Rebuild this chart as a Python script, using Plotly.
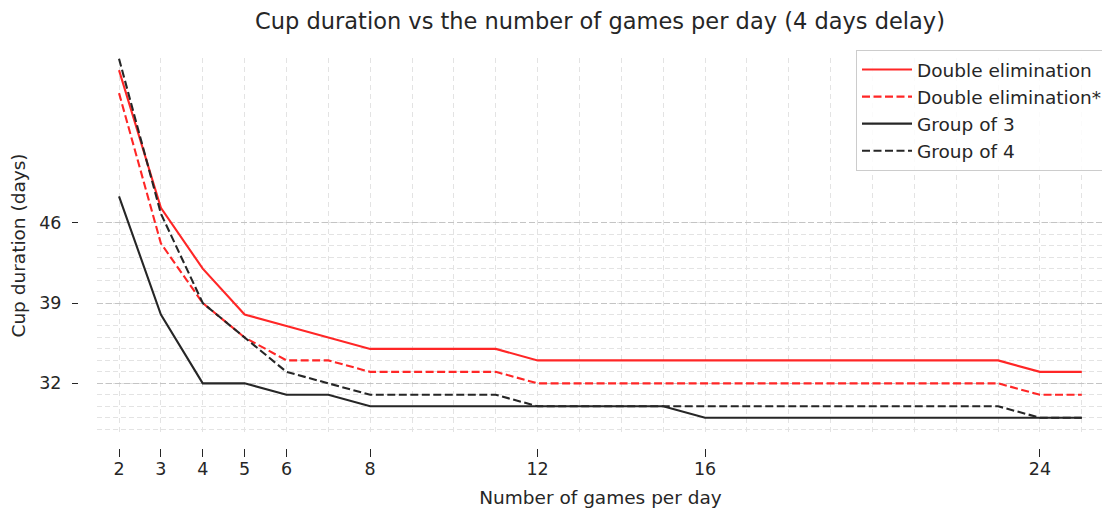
import plotly.graph_objects as go

# ---------------- data ----------------
games_per_day = [2, 3, 4, 5, 6, 7, 8, 9, 10, 11, 12, 13, 14, 15, 16, 17, 18, 19, 20, 21, 22, 23, 24, 25]
double_elim = [59.3, 47.3, 42, 38, 37, 36, 35, 35, 35, 35, 34, 34, 34, 34, 34, 34, 34, 34, 34, 34, 34, 34, 33, 33]
double_elim_star = [57.3, 44.2, 39, 36, 34, 34, 33, 33, 33, 33, 32, 32, 32, 32, 32, 32, 32, 32, 32, 32, 32, 32, 31, 31]
group_of_3 = [48.3, 38, 32, 32, 31, 31, 30, 30, 30, 30, 30, 30, 30, 30, 29, 29, 29, 29, 29, 29, 29, 29, 29, 29]
group_of_4 = [60.3, 46.8, 39, 36, 33, 32, 31, 31, 31, 31, 30, 30, 30, 30, 30, 30, 30, 30, 30, 30, 30, 30, 29, 29]

x_tick_vals = [2, 3, 4, 5, 6, 8, 12, 16, 24]
y_tick_vals = [32, 39, 46]
x_minor_vals = list(range(2, 26))
y_minor_vals = list(range(28, 47))

title_text = "Cup duration vs the number of games per day (4 days delay)"
x_title = "Number of games per day"
y_title = "Cup duration (days)"

# ---------------- style ----------------
# the page body adds an 8px offset, so the figure is sized to end at the window edge
OFF = 8
W, H = 1110 - OFF, 510 - OFF
ML, MR, MT, MB = 70 - OFF, 6, 58 - OFF, 52
PW = W - ML - MR
PH = H - MT - MB
FONT = "DejaVu Sans"
TXT = "#262626"
RED = "rgb(255,38,38)"
BLK = "rgb(38,38,38)"
DASH = "8px,3.5px"


def fx(px):
    """reference x pixel -> paper fraction"""
    return (px - OFF - ML) / PW


def fy(py):
    """reference y pixel -> paper fraction"""
    return (H - MB - (py - OFF)) / PH


series = [
    ("Double elimination", double_elim, RED, "solid"),
    ("Double elimination*", double_elim_star, RED, DASH),
    ("Group of 3", group_of_3, BLK, "solid"),
    ("Group of 4", group_of_4, BLK, DASH),
]

fig = go.Figure()
for name, vals, col, dash in series:
    fig.add_trace(go.Scatter(
        x=games_per_day, y=vals, name=name, mode="lines",
        line=dict(color=col, width=2.1, dash=dash),
    ))

fig.update_layout(
    width=W, height=H,
    margin=dict(l=ML, r=MR, t=MT, b=MB, autoexpand=False),
    paper_bgcolor="white", plot_bgcolor="white",
    font=dict(family=FONT, size=18, color=TXT),
    title=dict(text=title_text, x=(600 - OFF) / W, xref="container", xanchor="center",
               y=1 - (21 - OFF) / H, yref="container", yanchor="middle",
               font=dict(size=22.5, color=TXT)),
    showlegend=True,
    legend=dict(
        x=fx(1108), xanchor="right", y=fy(50), yanchor="top",
        bgcolor="rgba(255,255,255,0.85)", bordercolor="#cccccc", borderwidth=1,
        font=dict(size=18.5, color=TXT),
        itemwidth=50,
        tracegroupgap=0,
    ),
    xaxis=dict(
        domain=[fx(97), 1],
        range=[1.474, 25.53],
        anchor="free", position=fy(448),
        tickmode="array", tickvals=x_tick_vals,
        ticks="outside", ticklen=8, tickwidth=1, tickcolor=TXT,
        ticklabelstandoff=-3,
        tickfont=dict(size=17.5, color=TXT),
        showline=False, zeroline=False,
        showgrid=True, gridcolor="#e3e3e3", gridwidth=1, griddash="5px,4px",
        minor=dict(tickvals=x_minor_vals, showgrid=True, gridcolor="#e3e3e3",
                   gridwidth=1, griddash="5px,4px", ticks=""),
        title=dict(text=x_title, standoff=13, font=dict(size=18.5, color=TXT)),
    ),
    yaxis=dict(
        domain=[fy(433), 1],
        range=[27.67, 60.36],
        anchor="free", position=fx(78),
        tickmode="array", tickvals=y_tick_vals,
        ticks="outside", ticklen=6, tickwidth=1, tickcolor=TXT,
        ticklabelstandoff=7,
        tickfont=dict(size=17.5, color=TXT),
        showline=False, zeroline=False,
        showgrid=True, gridcolor="#c4c4c4", gridwidth=1, griddash="6px,3px",
        minor=dict(tickvals=y_minor_vals, showgrid=True, gridcolor="#e3e3e3",
                   gridwidth=1, griddash="5px,3px", ticks=""),
        title=dict(text=y_title, standoff=10, font=dict(size=18.5, color=TXT)),
    ),
)

fig.write_html("out.html")
